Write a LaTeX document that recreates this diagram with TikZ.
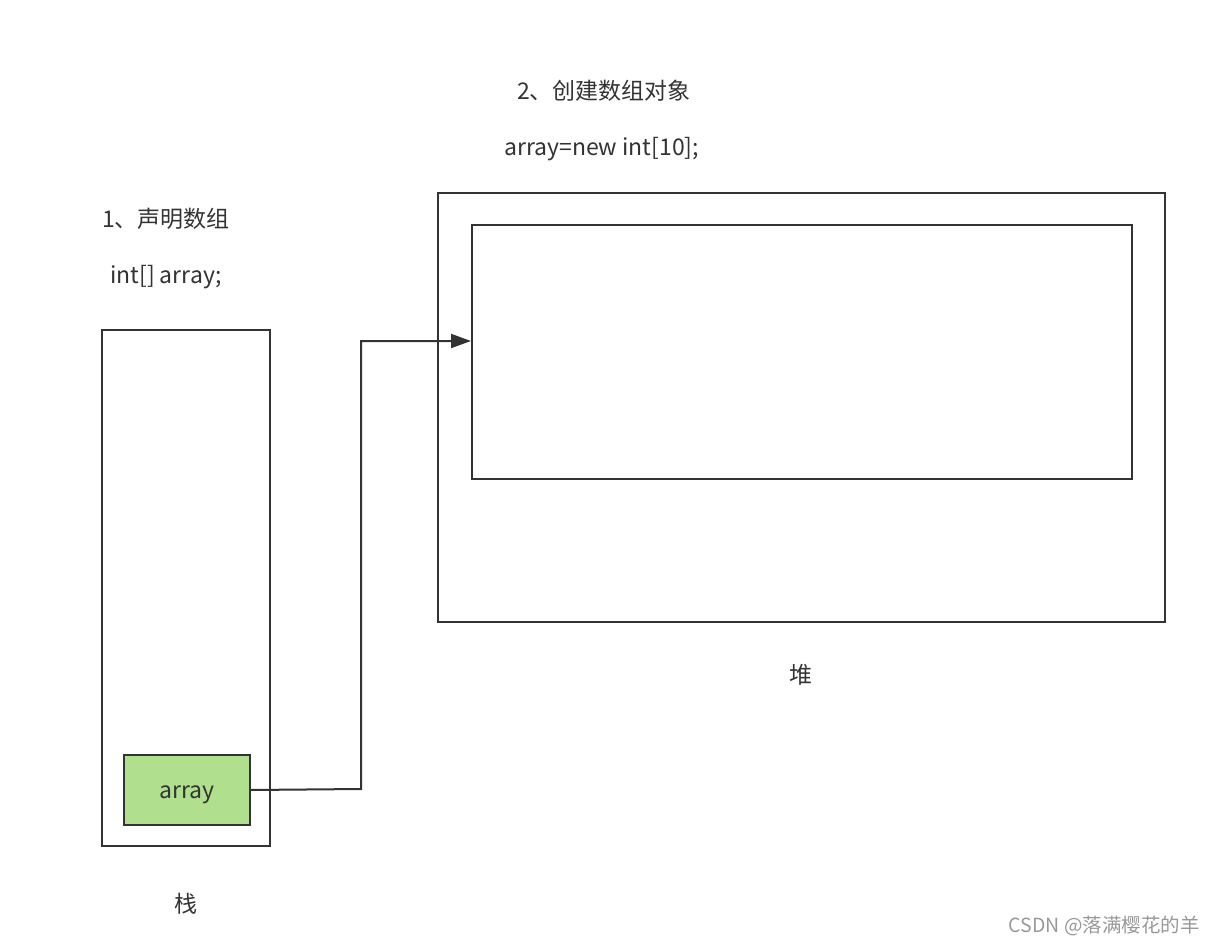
\documentclass[tikz,border=0pt]{standalone}
\usepackage{fontspec}
\setmainfont{Noto Sans CJK SC}
\usetikzlibrary{arrows.meta}
\definecolor{linec}{HTML}{333333}
\definecolor{greenfill}{HTML}{B0E08E}
\definecolor{txt}{HTML}{333333}
\tikzset{
  box/.style={draw=linec, line width=2pt},
  lbl/.style={text=txt, font=\fontsize{23}{27}\selectfont, inner sep=0pt},
  conn/.style={draw=linec, line width=2pt, -{Triangle[length=20pt,width=14pt]}}
}
\begin{document}
\begin{tikzpicture}[x=1pt,y=-1pt]
\useasboundingbox (0,0) rectangle (1216,944);
% stack
\draw[box] (102,330) rectangle (270,846);
\node[box, fill=greenfill, minimum width=126pt, minimum height=70pt, inner sep=0pt, anchor=north west] (arr) at (123,754) {};
\node[lbl] (arrt) at (187,795) {array};
% heap
\draw[box] (438,193) rectangle (1165,622);
\node[box, minimum width=660pt, minimum height=254pt, inner sep=0pt, anchor=north west] (obj) at (471,224) {};
\coordinate (tgt) at (471,341);
\draw[conn] (arr.east) -- (361,789) -- (361,341) -- (tgt);
% labels
\node[lbl, anchor=west] (t1) at (102,219) {1、声明数组};
\node[lbl, anchor=west] (t2) at (110,277) {int[] array;};
\node[lbl, anchor=west] (t3) at (517,91) {2、创建数组对象};
\node[lbl, anchor=west] (t4) at (504,149) {array=new int[10];};
\node[lbl] (heap) at (801,675) {堆};
\node[lbl] (stack) at (186,904) {栈};
\node[text=gray!80, font=\fontsize{19.5}{23}\selectfont, inner sep=0pt, anchor=east] (wm) at (1200,926) {CSDN @落满樱花的羊};
\end{tikzpicture}
\end{document}
